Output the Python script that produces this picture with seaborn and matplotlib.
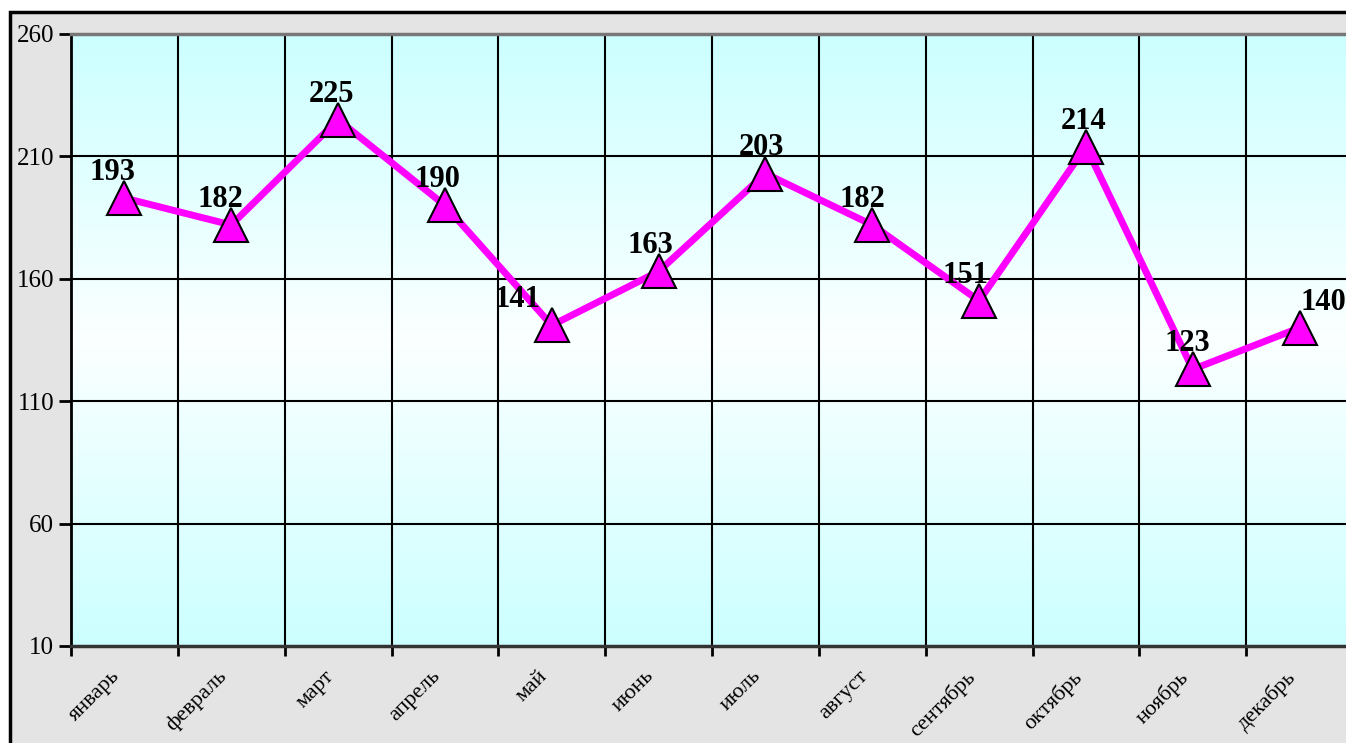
import numpy as np
import pandas as pd
import matplotlib.pyplot as plt
import matplotlib.transforms as mtransforms
import seaborn as sns
from matplotlib.colors import LinearSegmentedColormap
from matplotlib.patches import Rectangle

months = ["январь", "февраль", "март", "апрель", "май", "июнь",
          "июль", "август", "сентябрь", "октябрь", "ноябрь", "декабрь"]
values = [193, 182, 225, 190, 141, 163, 203, 182, 151, 214, 123, 140]
yticks = [10, 60, 110, 160, 210, 260]
# label nudges in pixels (dx), Excel puts them a bit off-centre
label_dx = [-12, -11, -7, -7, -34, -8, -4, -10, -14, -2, -5, 24]


def main():
    sns.set_style("white")
    plt.rcParams["font.family"] = ["Liberation Serif", "DejaVu Serif"]
    plt.rcParams["text.color"] = "black"
    plt.rcParams["xtick.color"] = "black"
    plt.rcParams["ytick.color"] = "black"

    df = pd.DataFrame({"month": months, "value": values})
    df["pos"] = np.arange(len(df)) + 0.5

    fig = plt.figure(figsize=(13.46, 7.43), dpi=100)
    fig.patch.set_facecolor("white")
    W, H = 1346, 743

    # grey backdrop with a black frame
    fig.patches.append(Rectangle((10 / W, -0.05), 1.1, (H - 12) / H + 0.05,
                                 transform=fig.transFigure, facecolor="#e4e4e4",
                                 edgecolor="black", linewidth=2.5, zorder=-10))

    ax = fig.add_axes([71 / W, (H - 646) / H, (1353 - 71) / W, (646 - 34) / H])

    # cyan - white - cyan gradient
    cmap = LinearSegmentedColormap.from_list(
        "bg", [(0, "#ccffff"), (0.5, "#fbffff"), (1, "#ccffff")])
    grad = np.linspace(0, 1, 256).reshape(-1, 1)
    ax.imshow(grad, cmap=cmap, aspect="auto", extent=[0, 1, 0, 1],
              transform=ax.transAxes, zorder=0)

    sns.lineplot(data=df, x="pos", y="value", ax=ax, color="#ff00ff",
                 linewidth=5, marker="^", markersize=24,
                 markerfacecolor="#ff00ff", markeredgecolor="black",
                 markeredgewidth=1.5, zorder=5, sort=False)

    for (_, r), dx in zip(df.iterrows(), label_dx):
        ax.annotate(str(r["value"]), (r["pos"], r["value"]),
                    xytext=(dx * 0.72, 13), textcoords="offset points",
                    ha="center", va="baseline", fontsize=22, fontweight="bold",
                    color="black", zorder=6, annotation_clip=False)

    ax.set_xlim(0, 12)
    ax.set_ylim(10, 260)
    ax.set_yticks(yticks)
    ax.set_yticklabels([str(t) for t in yticks], fontsize=18)
    ax.set_xticks(np.arange(12) + 0.5)
    ax.set_xticklabels(months, fontsize=16, rotation=45, ha="right",
                       va="top", rotation_mode="anchor")
    ax.set_xticks(np.arange(13), minor=True)
    ax.tick_params(axis="x", which="major", length=0, pad=15)
    ax.tick_params(axis="x", which="minor", bottom=True, length=7, width=2,
                   direction="out", color="black")
    ax.tick_params(axis="y", left=True, length=9, width=2, direction="out",
                   color="black", pad=3)
    shift = mtransforms.ScaledTranslation(-14 / 100, 0, fig.dpi_scale_trans)
    for lbl in ax.get_xticklabels():
        lbl.set_transform(lbl.get_transform() + shift)

    for y in yticks[1:-1]:
        ax.axhline(y, color="black", linewidth=1.5, zorder=1)
    for x in range(1, 12):
        ax.axvline(x, color="black", linewidth=1.5, zorder=1)

    ax.set_xlabel("")
    ax.set_ylabel("")
    ax.spines["left"].set_linewidth(2)
    ax.spines["left"].set_color("black")
    ax.spines["bottom"].set_linewidth(2.5)
    ax.spines["bottom"].set_color("#333333")
    ax.spines["top"].set_linewidth(2.5)
    ax.spines["top"].set_color("#777777")
    ax.spines["right"].set_visible(False)

    plt.savefig("out.png", dpi=100)


if __name__ == "__main__":
    main()
